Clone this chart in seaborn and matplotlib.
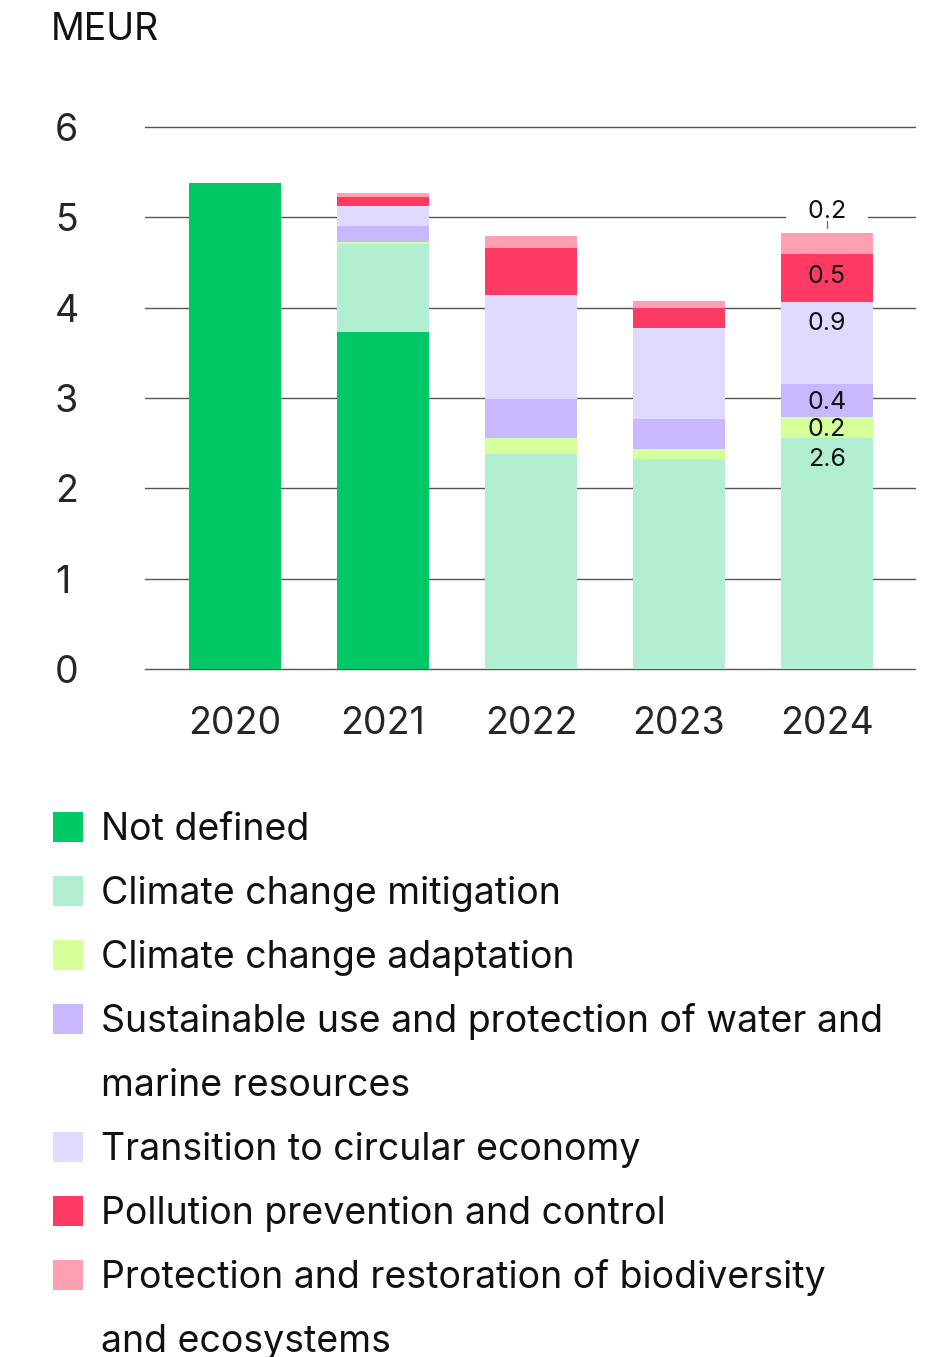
import textwrap

import matplotlib
matplotlib.use("Agg")
import matplotlib.pyplot as plt
from matplotlib.patches import Rectangle
import numpy as np
import pandas as pd
import seaborn as sns

# ---- data (MEUR) ----
years = ["2020", "2021", "2022", "2023", "2024"]
categories = [
    "Not defined",
    "Climate change mitigation",
    "Climate change adaptation",
    "Sustainable use and protection of water and marine resources",
    "Transition to circular economy",
    "Pollution prevention and control",
    "Protection and restoration of biodiversity and ecosystems",
]
not_defined = [5.38, 3.73, 0.0, 0.0, 0.0]
mitigation = [0.0, 0.97, 2.38, 2.32, 2.56]
adaptation = [0.0, 0.03, 0.18, 0.11, 0.23]
water = [0.0, 0.17, 0.43, 0.34, 0.37]
circular = [0.0, 0.23, 1.15, 1.00, 0.90]
pollution = [0.0, 0.10, 0.52, 0.23, 0.53]
biodiversity = [0.0, 0.04, 0.13, 0.07, 0.24]
series = [not_defined, mitigation, adaptation, water, circular, pollution, biodiversity]
colors = ["#00C864", "#B2EED2", "#D5FF99", "#C9B7FF", "#E1DAFF", "#FF3A63", "#FFA0B2"]
labelled_year = "2024"
y_ticks = [0, 1, 2, 3, 4, 5, 6]
unit_label = "MEUR"

# ---- style ----
sns.set_theme(style="white")
plt.rcParams["font.family"] = ["Inter", "DejaVu Sans"]
plt.rcParams["text.color"] = "#111111"
BIG = 27
SMALL = 18

W, H = 928, 1357
fig = plt.figure(figsize=(W / 100, H / 100), dpi=100)
ax = fig.add_axes([145 / W, 1 - 669 / H, (915 - 145) / W, (669 - 127) / H])

rows = []
for cat, vals in zip(categories, series):
    for i, v in enumerate(vals):
        rows.append({"pos": i, "category": cat, "value": v})
df = pd.DataFrame(rows)

# seaborn stacks hue levels with the first level on top, so reverse the order
sns.histplot(
    data=df, x="pos", hue="category", weights="value",
    multiple="stack", discrete=True, shrink=0.62,
    hue_order=categories[::-1], palette=dict(zip(categories, colors)),
    alpha=1, linewidth=0, legend=False, ax=ax,
)

ax.set_xlim(-0.608, 4.595)
ax.set_ylim(0, 6)
ax.set_yticks(y_ticks)
ax.set_yticklabels([str(t) for t in y_ticks], fontsize=BIG, ha="left")
ax.set_xticks(range(len(years)))
ax.set_xticklabels(years, fontsize=BIG)
ax.tick_params(axis="y", length=0, pad=65)
ax.tick_params(axis="x", length=0, pad=27)
ax.set_xlabel("")
ax.set_ylabel("")
for s in ax.spines.values():
    s.set_visible(False)
ax.set_axisbelow(True)
ax.grid(axis="y", color="#555555", linewidth=1.0)
ax.grid(axis="x", visible=False)
for gl in ax.get_ygridlines():
    gl.set_clip_on(False)

fig.text(51 / W, 1 - 30 / H, unit_label, fontsize=BIG, ha="left", va="center")

# ---- value labels on the last bar ----
idx = years.index(labelled_year)
cum = 0.0
stack_tops = []
for vals in series:
    cum += vals[idx]
    stack_tops.append((vals[idx], cum))
for k, (v, top) in enumerate(stack_tops):
    if v <= 0:
        continue
    if k == len(stack_tops) - 1:
        ax.text(idx, top + 0.24, f"   {v:.1f}   ", ha="center", va="center", fontsize=SMALL,
                bbox=dict(boxstyle="square,pad=0.05", fc="white", ec="none"), zorder=4)
        ax.plot([idx, idx], [top + 0.05, top + 0.13], color="#777777", lw=1, zorder=5)
    else:
        y = top - min(v / 2, 0.22) - 0.02
        ax.text(idx, y, f"{v:.1f}", ha="center", va="center", fontsize=SMALL, zorder=4)

# ---- legend ----
row_h = 64
y0 = 827
line = 0
for cat, col in zip(categories, colors):
    yc = y0 + line * row_h
    fig.patches.append(Rectangle((53 / W, 1 - (yc + 15) / H), 30 / W, 30 / H,
                                 transform=fig.transFigure, color=col, lw=0))
    for part in textwrap.wrap(cat, 43):
        fig.text(101 / W, 1 - (y0 + 3 + line * row_h) / H, part, fontsize=BIG,
                 ha="left", va="center")
        line += 1

fig.savefig("out.png", dpi=100)
